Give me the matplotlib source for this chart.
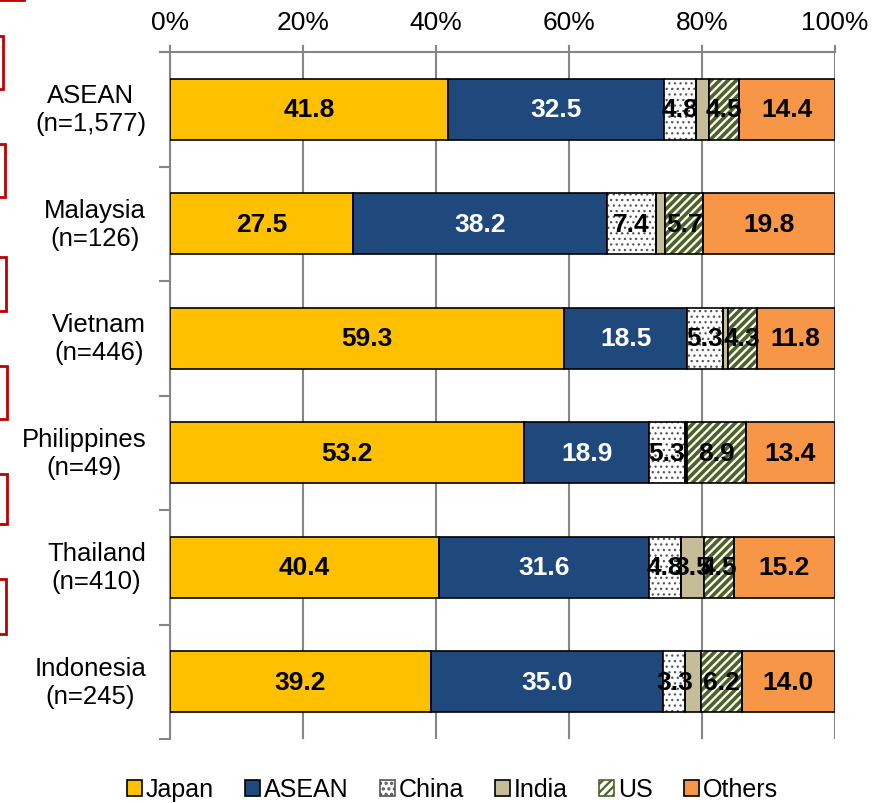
import matplotlib
matplotlib.use("Agg")
import matplotlib.pyplot as plt
import numpy as np
from matplotlib.patches import Rectangle, Patch

plt.rcParams['font.family'] = ['Liberation Sans', 'DejaVu Sans']
plt.rcParams['hatch.linewidth'] = 1.6

categories = ["ASEAN\n(n=1,577)", "Malaysia\n(n=126)", "Vietnam\n(n=446)",
              "Philippines\n(n=49)", "Thailand\n(n=410)", "Indonesia\n(n=245)"]
series_names = ["Japan", "ASEAN", "China", "India", "US", "Others"]
japan = [41.8, 27.5, 59.3, 53.2, 40.4, 39.2]
asean = [32.5, 38.2, 18.5, 18.9, 31.6, 35.0]
china = [4.8, 7.4, 5.3, 5.3, 4.8, 3.3]
india = [2.0, 1.4, 0.8, 0.3, 3.5, 2.3]
us = [4.5, 5.7, 4.3, 8.9, 4.5, 6.2]
others = [14.4, 19.8, 11.8, 13.4, 15.2, 14.0]
xticks = [0, 20, 40, 60, 80, 100]

series = [japan, asean, china, india, us, others]
fills = ["#FFC000", "#1F497D", "white", "#C4BD97", "white", "#F79646"]
hatches = [None, None, "...", None, "////", None]
hatch_cols = [None, None, "#555555", None, "#4F6228", None]
hatch_lws = [None, None, 0.9, None, 2.6, None]
txt_cols = ["black", "white", "black", "black", "black", "black"]
show_min = [0, 0, 0, 3.0, 0, 0]

fig = plt.figure(figsize=(8.73, 8.04), dpi=100)
ax = fig.add_axes([170/873, 1-740/804, 665/873, 687/804])

y = np.arange(len(categories)) + 0.5
h = 0.53
left = np.zeros(len(categories))
for vals, fc, ht, hc, hl, tc, mn in zip(series, fills, hatches, hatch_cols, hatch_lws, txt_cols, show_min):
    vals = np.array(vals)
    if ht:
        with plt.rc_context({'hatch.linewidth': hl}):
            bars = ax.barh(y, vals, left=left, height=h, color=fc, edgecolor=hc, hatch=ht, linewidth=0, zorder=3)
            for b in bars:
                if hasattr(b, 'set_hatch_linewidth'):
                    b.set_hatch_linewidth(hl)
        ax.barh(y, vals, left=left, height=h, color='none', edgecolor='black', linewidth=1.2, zorder=4)
    else:
        ax.barh(y, vals, left=left, height=h, color=fc, edgecolor='black', linewidth=1.2, zorder=3)
    for yi, l, v in zip(y, left, vals):
        if v >= mn and v > 0.5:
            ax.text(l + v/2, yi, f"{v:.1f}", ha='center', va='center', color=tc,
                    fontsize=19, fontweight='bold', zorder=6)
    left = left + vals

ax.set_xlim(0, 100)
ax.set_ylim(6, 0)
ax.xaxis.tick_top()
ax.set_xticks(xticks)
ax.set_xticklabels([f"{t}%" for t in xticks], fontsize=19)
ax.tick_params(axis='x', length=5, width=1.5, color='#868686', pad=8)
ax.grid(axis='x', color='#868686', linewidth=1.5, zorder=0)
ax.set_yticks(np.arange(0, 7))
ax.set_yticklabels([])
ax.tick_params(axis='y', length=8, width=1.5, color='#868686')
for s in ['right', 'bottom']:
    ax.spines[s].set_visible(False)
for s in ['top', 'left']:
    ax.spines[s].set_color('#868686')
    ax.spines[s].set_linewidth(1.5)
ax.plot([-1.5, 0], [0, 0], color='#868686', lw=1.5, clip_on=False, zorder=5)

for yi, lab in zip(y, categories):
    ax.text(-3.6, yi, lab, ha='right', va='center', ma='center', fontsize=18.5,
            transform=ax.transData, clip_on=False)

handles = []
for fc, ht, hc, name in zip(fills, hatches, hatch_cols, series_names):
    if ht:
        handles.append(Patch(facecolor=fc, edgecolor=hc, hatch=ht, linewidth=1.2, label=name))
    else:
        handles.append(Patch(facecolor=fc, edgecolor='black', linewidth=1.2, label=name))
fig.legend(handles=handles, loc='lower center', bbox_to_anchor=(0.518, -0.026), ncol=6,
           frameon=False, fontsize=18, handlelength=0.6, handleheight=0.6,
           handletextpad=0.15, columnspacing=1.25)

marks = [(-20, 1, 24), (37, 90, 3), (145, 198, 5), (258, 312, 6), (367, 420, 7), (475, 525, 7), (580, 635, 6)]
for top, bot, w in marks:
    fig.patches.append(Rectangle((-10/100, (804-bot)/100), (w+10)/100, (bot-top)/100,
                                 transform=fig.dpi_scale_trans, fill=False,
                                 edgecolor='#C00000', linewidth=2))

fig.savefig("out.png", dpi=100)
